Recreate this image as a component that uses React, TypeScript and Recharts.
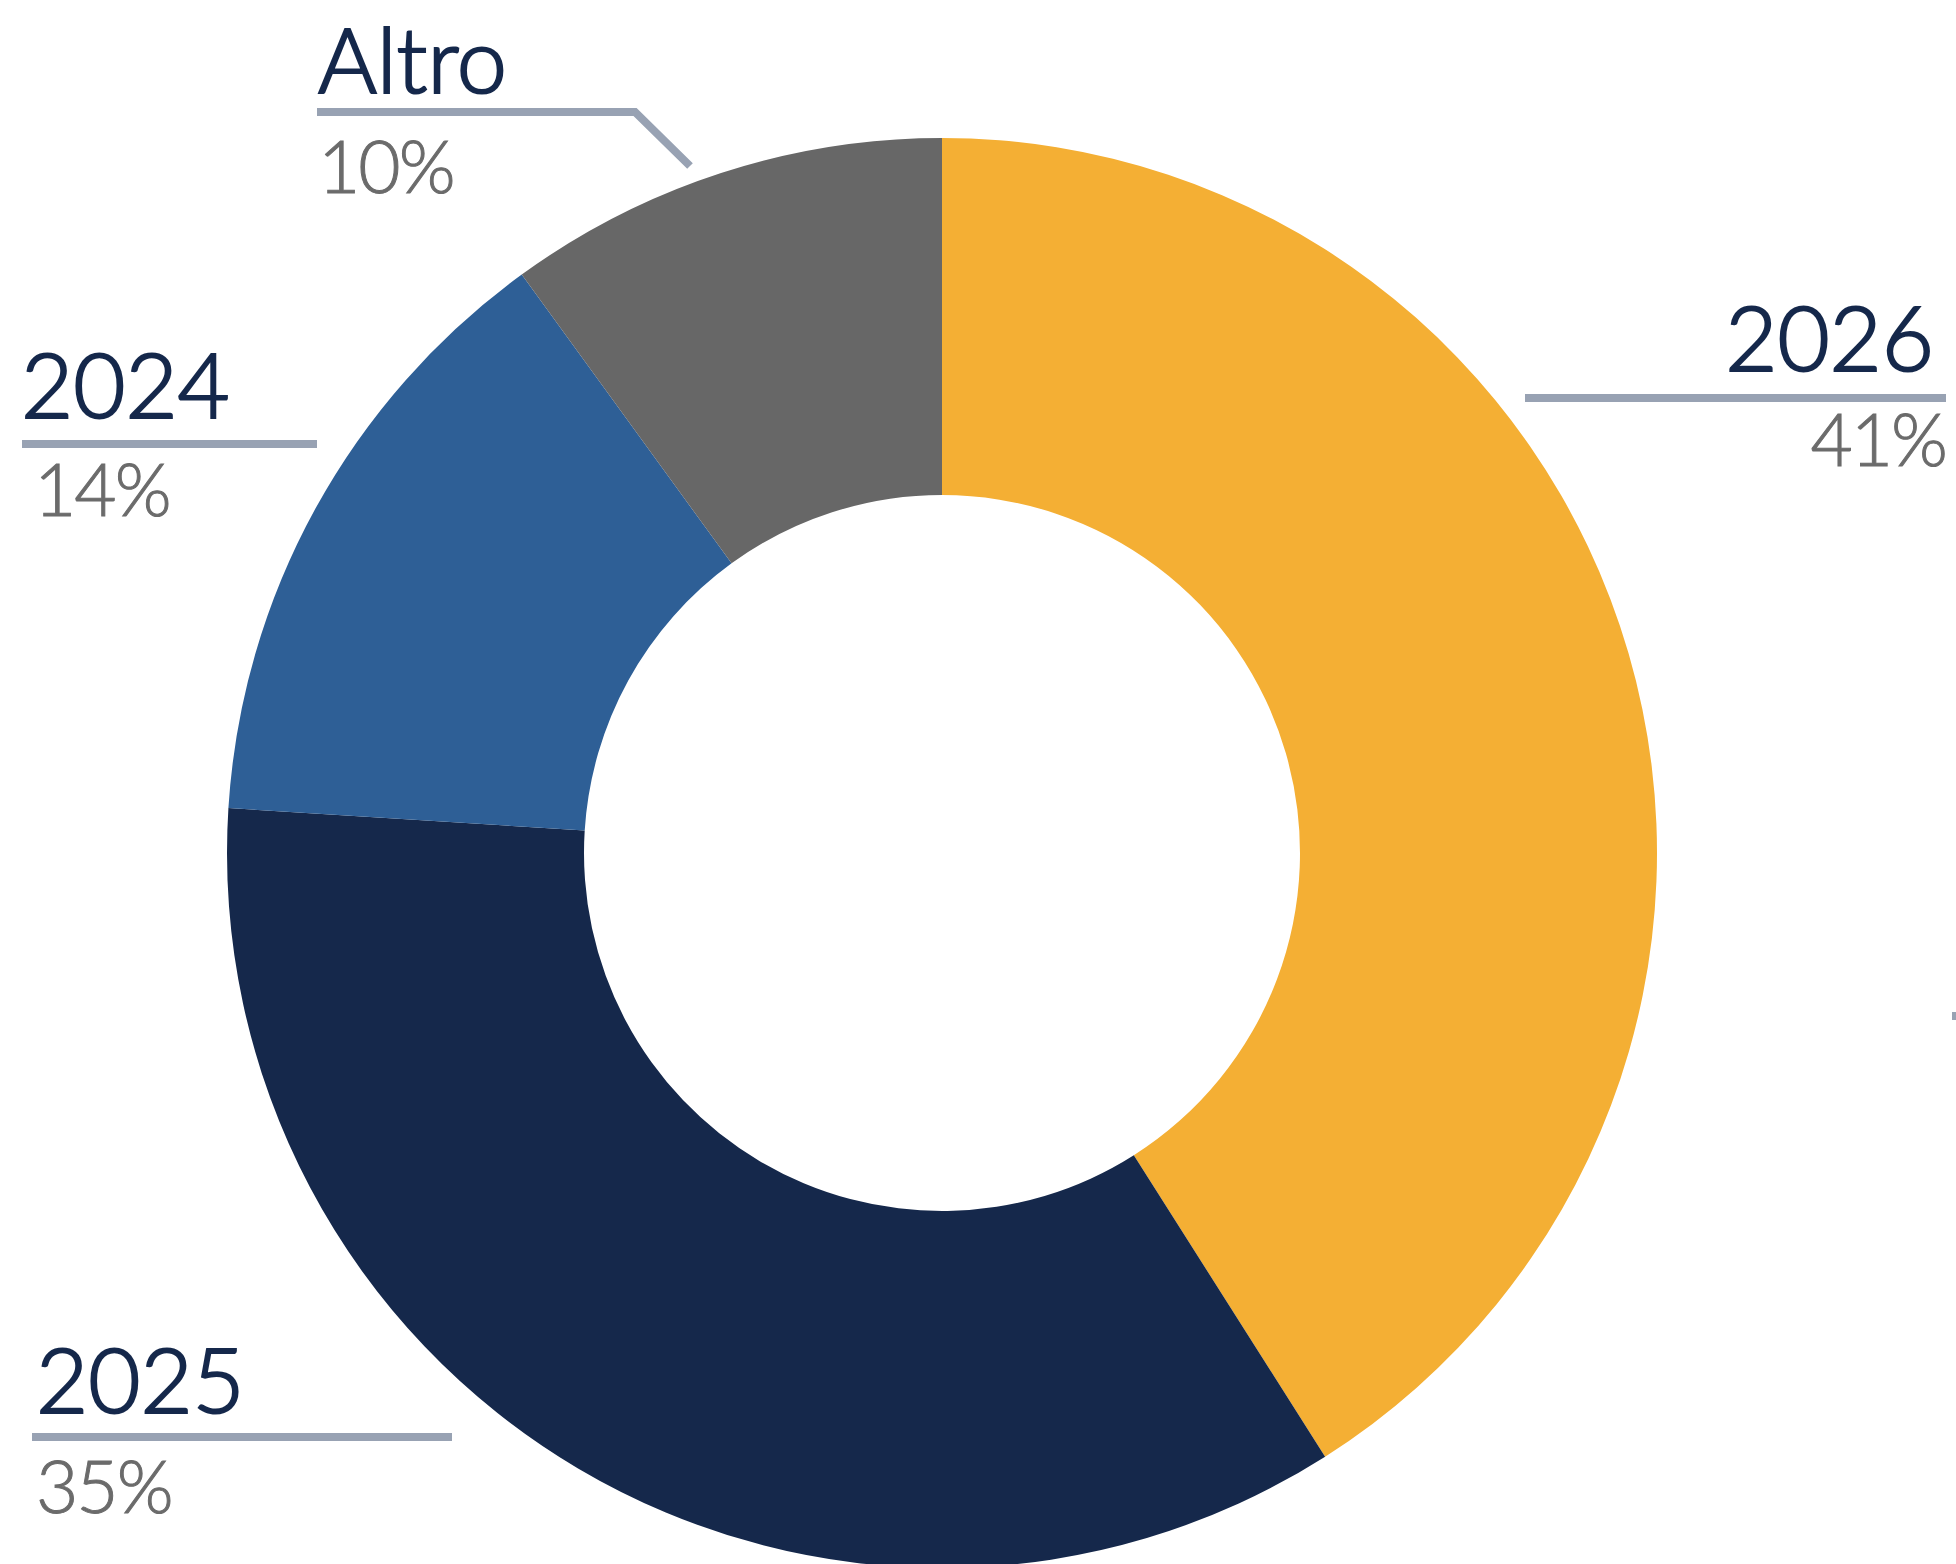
import React from "react";
import { Cell, Pie, PieChart } from "recharts";

const categories = ["2026", "2025", "2024", "Altro"];
const shares = [41, 35, 14, 10];
const percentLabels = ["41%", "35%", "14%", "10%"];
const colors = ["#F4AF34", "#15284B", "#2E5F96", "#676767"];

const data = categories.map((name, i) => ({ name, value: shares[i] }));

const NAME_COLOR = "#15284B";
const PCT_COLOR = "#6B6B6B";
const LINE_COLOR = "#98A2B3";
const FONT = "Lato, 'Open Sans', sans-serif";

// where each callout sits on the page (layout, not data)
const callouts = [
  { anchor: "end", nameX: 1934, nameY: 371, pctX: 1946, pctY: 466, line: [[1525, 398], [1946, 398]] },
  { anchor: "start", nameX: 36, nameY: 1413, pctX: 36, pctY: 1513, line: [[32, 1437], [452, 1437]] },
  { anchor: "start", nameX: 21, nameY: 418, pctX: 34, pctY: 516, line: [[22, 444], [317, 444]] },
  { anchor: "start", nameX: 318, nameY: 93, pctX: 318, pctY: 193, line: [[317, 112], [635, 112], [690, 166]] },
];

const renderLabel = (props: any) => {
  const i = typeof props.index === "number" ? props.index : categories.indexOf(props.name);
  const c = callouts[i];
  if (!c) return null;
  const pts = c.line.map((p) => p.join(",")).join(" ");
  return (
    <g key={`lbl-${i}`}>
      <text
        x={c.nameX}
        y={c.nameY}
        textAnchor={c.anchor}
        fill={NAME_COLOR}
        stroke={NAME_COLOR}
        strokeWidth={2.2}
        fontSize={90}
        fontWeight={300}
        fontFamily={FONT}
      >
        {categories[i]}
      </text>
      <polyline points={pts} fill="none" stroke={LINE_COLOR} strokeWidth={8} />
      <text
        x={c.pctX}
        y={c.pctY}
        textAnchor={c.anchor}
        fill={PCT_COLOR}
        stroke={PCT_COLOR}
        strokeWidth={1}
        fontSize={73}
        fontWeight={300}
        letterSpacing={-2}
        fontFamily={FONT}
      >
        {percentLabels[i]}
      </text>
    </g>
  );
};

const App: React.FC = () => {
  return (
    <div style={{ position: "absolute", left: 0, top: 0, width: 1956, height: 1564, background: "#fff" }}>
      <PieChart width={1956} height={1564} margin={{ top: 0, right: 0, bottom: 0, left: 0 }}>
        <Pie
          data={data}
          dataKey="value"
          nameKey="name"
          cx={942}
          cy={853}
          innerRadius={358}
          outerRadius={715}
          startAngle={90}
          endAngle={-270}
          stroke="none"
          label={renderLabel}
          labelLine={false}
          isAnimationActive={false}
        >
          {data.map((d, i) => (
            <Cell key={d.name} fill={colors[i]} />
          ))}
        </Pie>
        <line x1={1952} y1={1016} x2={1956} y2={1016} stroke={LINE_COLOR} strokeWidth={8} />
      </PieChart>
    </div>
  );
};

export default App;
